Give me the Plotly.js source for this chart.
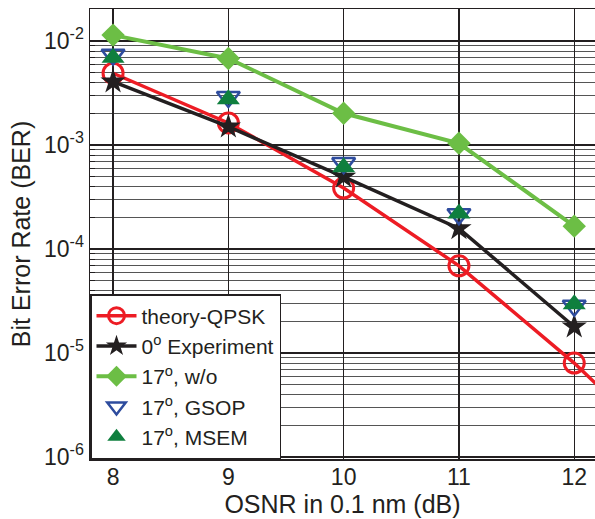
<!DOCTYPE html>
<html>
<head>
<meta charset="utf-8">
<script src="https://cdn.plot.ly/plotly-3.0.1.min.js"></script>
<style>html,body{margin:0;padding:0;background:#fff;}#chart{width:595px;height:519px;}</style>
</head>
<body>
<div id="chart"></div>
<script>
// ---- data ----
const osnr = [8, 9, 10, 11, 12];
const osnrTheory = [8, 9, 10, 11, 12, 13];
const berTheory = [4.9e-3, 1.63e-3, 3.86e-4, 6.9e-5, 8.0e-6, 7.0e-7];
const berExp0 = [4.07e-3, 1.5e-3, 4.95e-4, 1.58e-4, 1.79e-5];
const berWo17 = [1.14e-2, 6.8e-3, 2.02e-3, 1.04e-3, 1.66e-4];
const berGsop17 = [7.4e-3, 2.9e-3, 6.7e-4, 2.16e-4, 2.85e-5];
const berMsem17 = [6.9e-3, 2.75e-3, 6.1e-4, 2.2e-4, 2.95e-5];
const seriesNames = ['theory-QPSK', '0<sup>o</sup> Experiment', '17<sup>o</sup>, w/o', '17<sup>o</sup>, GSOP', '17<sup>o</sup>, MSEM'];
const xTickVals = [8, 9, 10, 11, 12];
const yTickVals = [1e-6, 1e-5, 1e-4, 1e-3, 1e-2];
const yTickText = ['10<sup>-6</sup>', '10<sup>-5</sup>', '10<sup>-4</sup>', '10<sup>-3</sup>', '10<sup>-2</sup>'];

const minorVals = [];
for (let n = -6; n <= -2; n++) for (let k = 2; k <= 9; k++) minorVals.push(k * Math.pow(10, n));

const FONT = 'Liberation Sans, Arial, Helvetica, sans-serif';

const traces = [
  {x: osnrTheory, y: berTheory, name: seriesNames[0], mode: 'lines+markers',
   line: {color: '#ED1C24', width: 3.5},
   marker: {symbol: 'circle-open', size: 20, color: '#ED1C24', line: {width: 3, color: '#ED1C24'}}},
  {x: osnr, y: berExp0, name: seriesNames[1], mode: 'lines+markers',
   line: {color: '#231F20', width: 3.5},
   marker: {symbol: 'star', size: 19, color: '#231F20'}},
  {x: osnr, y: berWo17, name: seriesNames[2], mode: 'lines+markers',
   line: {color: '#6CBE45', width: 4},
   marker: {symbol: 'diamond', size: 18, color: '#6CBE45'}},
  {x: osnr, y: berGsop17, name: seriesNames[3], mode: 'markers',
   marker: {symbol: 'triangle-down-open', size: 20, color: '#2E4C9E', line: {width: 2.5, color: '#2E4C9E'}}},
  {x: osnr, y: berMsem17, name: seriesNames[4], mode: 'markers',
   marker: {symbol: 'triangle-up', size: 20, color: '#0F7F3E'}}
];

const layout = {
  width: 595, height: 519,
  margin: {l: 90, r: 0, t: 9, b: 60},
  paper_bgcolor: '#fff', plot_bgcolor: '#fff',
  font: {family: FONT, color: '#231F20', size: 22},
  showlegend: true,
  legend: {x: 0, y: 0, xanchor: 'left', yanchor: 'bottom',
    bgcolor: '#fff', bordercolor: '#231F20', borderwidth: 1.5,
    font: {family: FONT, size: 21, color: '#231F20'}, itemwidth: 40, tracegroupgap: 0},
  xaxis: {
    range: [7.8, 12.18], tickvals: xTickVals, ticktext: xTickVals.map(String),
    showline: true, mirror: true, linecolor: '#231F20', linewidth: 1.5,
    showgrid: true, gridcolor: '#231F20', gridwidth: 1.2,
    ticks: 'inside', ticklen: 5, tickcolor: '#231F20', zeroline: false,
    ticklabelstandoff: -3,
    tickfont: {family: FONT, size: 23, color: '#231F20'},
    title: {text: 'OSNR in 0.1 nm (dB)', font: {family: FONT, size: 25, color: '#231F20'}, standoff: 0}
  },
  yaxis: {
    type: 'log', range: [-6.019, -1.692],
    tickvals: yTickVals, ticktext: yTickText,
    showline: true, mirror: false, linecolor: '#231F20', linewidth: 1.5,
    showgrid: true, gridcolor: '#231F20', gridwidth: 1.2,
    ticks: 'inside', ticklen: 6, tickcolor: '#231F20', zeroline: false,
    tickfont: {family: FONT, size: 23, color: '#231F20'},
    minor: {tickvals: minorVals, showgrid: true, gridcolor: '#555', gridwidth: 1.1, ticks: 'inside', ticklen: 5, tickcolor: '#231F20'},
    title: {text: 'Bit Error Rate (BER)', font: {family: FONT, size: 25, color: '#231F20'}, standoff: 6}
  }
};

Plotly.newPlot('chart', traces, layout, {displayModeBar: false, staticPlot: true});
</script>
</body>
</html>
